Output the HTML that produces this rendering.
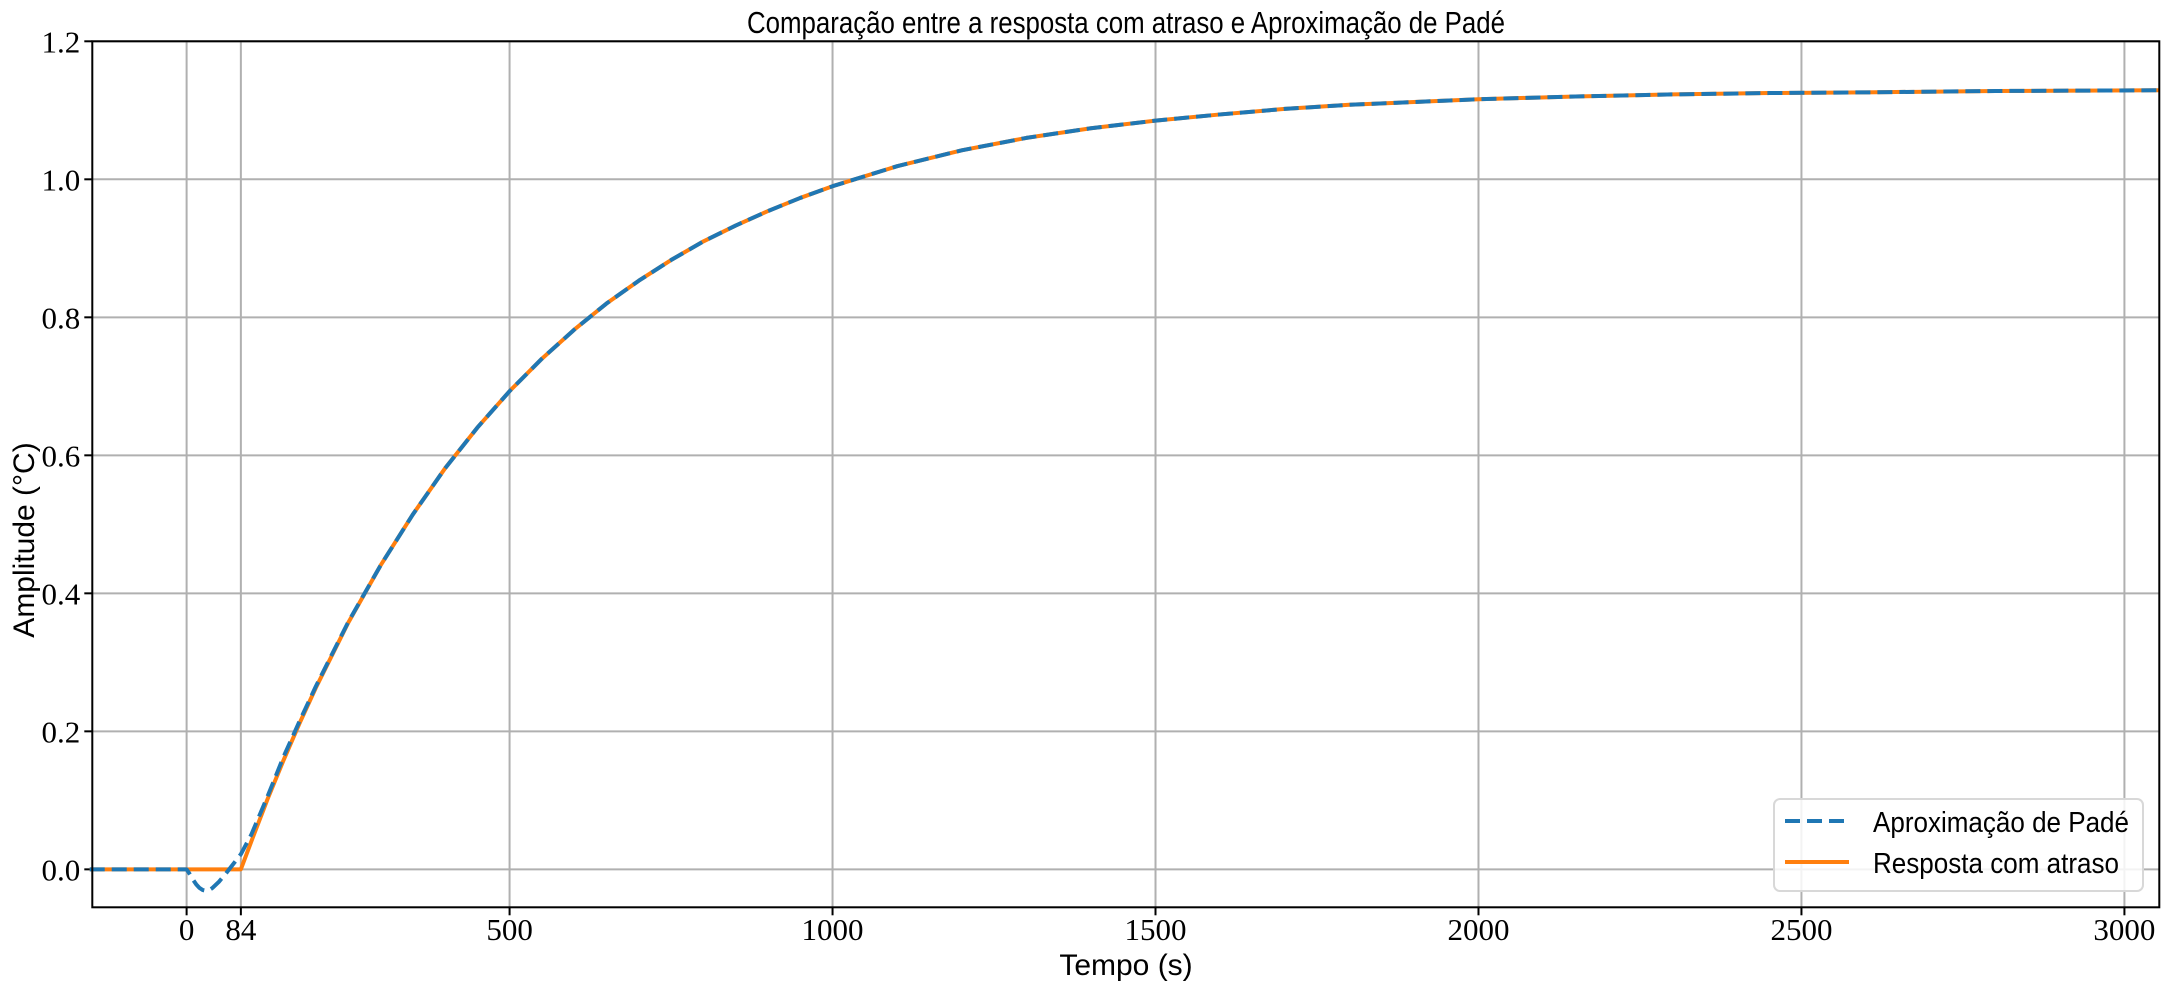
<!DOCTYPE html>
<html><head><meta charset="utf-8"><style>
body{margin:0;background:#fff;}
svg{display:block;}
.tick{font-family:"Liberation Serif",serif;font-size:31px;fill:#000;}
.lab{font-family:"Liberation Sans",sans-serif;font-size:30px;fill:#000;}
</style></head><body>
<svg id="chart" width="2168" height="990" xmlns="http://www.w3.org/2000/svg">
<rect width="2168" height="990" fill="#fff"/>
<g id="grid"></g>
<g id="ticks"></g>
<g id="series"></g>
<rect x="92.3" y="41.3" width="2067" height="866" fill="none" stroke="#000" stroke-width="2"/>
<text x="1126" y="33" text-anchor="middle" class="lab" style="font-size:31px" textLength="758" lengthAdjust="spacingAndGlyphs">Comparação entre a resposta com atraso e Aproximação de Padé</text>
<text x="1126" y="975" text-anchor="middle" class="lab">Tempo (s)</text>
<text transform="translate(34,540) rotate(-90)" text-anchor="middle" class="lab">Amplitude (°C)</text>
<g>
<rect x="1774" y="799" width="369" height="92" rx="6" fill="#fff" fill-opacity="0.85" stroke="#d8d8d8" stroke-width="2"/>
<line x1="1785" y1="821" x2="1847" y2="821" stroke="#1f77b4" stroke-width="4" stroke-dasharray="15 7"/>
<text x="1873" y="832" class="lab" style="font-size:29px" textLength="256" lengthAdjust="spacingAndGlyphs">Aproximação de Padé</text>
<line x1="1785" y1="862" x2="1849" y2="862" stroke="#ff7f0e" stroke-width="4"/>
<text x="1873" y="873" class="lab" style="font-size:29px" textLength="246" lengthAdjust="spacingAndGlyphs">Resposta com atraso</text>
</g>
</svg>
<script>
const xTicks=[0,84,500,1000,1500,2000,2500,3000];
const yTicks=[0.0,0.2,0.4,0.6,0.8,1.0,1.2];
const yTickLabels=["0.0","0.2","0.4","0.6","0.8","1.0","1.2"];
const delayT=[-150,0,84,100,125,150,175,200,250,300,350,400,450,500,550,600,650,700,750,800,850,900,950,1000,1100,1200,1300,1400,1500,1600,1700,1800,1900,2000,2150,2300,2450,2600,2800,3054];
const delayY=[0,0,0,0.040,0.101,0.158,0.212,0.263,0.357,0.440,0.514,0.581,0.640,0.693,0.740,0.782,0.820,0.853,0.883,0.910,0.933,0.954,0.973,0.990,1.019,1.042,1.060,1.074,1.085,1.094,1.102,1.108,1.112,1.116,1.120,1.123,1.125,1.126,1.128,1.129];
const padeT=[-150,0,5,10,15,20,25,30,35,40,50,60,70,84,100,125,150,175,200,250,300,350,400,450,500,550,600,650,700,750,800,850,900,950,1000,1100,1200,1300,1400,1500,1600,1700,1800,1900,2000,2150,2300,2450,2600,2800,3054];
const padeY=[0,0,-0.007,-0.015,-0.022,-0.027,-0.030,-0.031,-0.030,-0.027,-0.018,-0.007,0.005,0.022,0.050,0.105,0.163,0.215,0.265,0.358,0.440,0.514,0.581,0.640,0.693,0.740,0.782,0.820,0.853,0.883,0.910,0.933,0.954,0.973,0.990,1.019,1.042,1.060,1.074,1.085,1.094,1.102,1.108,1.112,1.116,1.120,1.123,1.125,1.126,1.128,1.129];
const X0=-146,X1=3054,PX0=92.3,PX1=2159.3;
const Y0=-0.055,Y1=1.2,PY0=907.3,PY1=41.3;
const sx=v=>PX0+(v-X0)/(X1-X0)*(PX1-PX0);
const sy=v=>PY0+(v-Y0)/(Y1-Y0)*(PY1-PY0);
const NS="http://www.w3.org/2000/svg";
function mk(tag,attrs,parent){const e=document.createElementNS(NS,tag);for(const k in attrs)e.setAttribute(k,attrs[k]);parent.appendChild(e);return e;}
const grid=document.getElementById('grid'),ticks=document.getElementById('ticks'),series=document.getElementById('series');
xTicks.forEach(t=>{
  const g=mk('line',{x1:sx(t),x2:sx(t),y1:PY1,y2:PY0,stroke:'#b0b0b0','stroke-width':2},grid);
  
  
  const tk=mk('line',{x1:sx(t),x2:sx(t),y1:PY0,y2:PY0+8,stroke:'#000','stroke-width':2},ticks);
  
  
  const tx=mk('text',{x:sx(t),y:940,'text-anchor':'middle',class:'tick'},ticks);
  tx.textContent=String(t);
  
  
});
yTicks.forEach((v,i)=>{
  const g=mk('line',{x1:PX0,x2:PX1,y1:sy(v),y2:sy(v),stroke:'#b0b0b0','stroke-width':2},grid);
  
  
  const tk=mk('line',{x1:PX0-8,x2:PX0,y1:sy(v),y2:sy(v),stroke:'#000','stroke-width':2},ticks);
  
  
  const tx=mk('text',{x:PX0-12,y:sy(v)+11,'text-anchor':'end',class:'tick'},ticks);
  tx.textContent=yTickLabels[i];
  
  
});
function linpath(ts,ys){return 'M'+ts.map((t,i)=>sx(t).toFixed(2)+','+sy(ys[i]).toFixed(2)).join(' L');}
const o=mk('path',{d:linpath(delayT,delayY),fill:'none',stroke:'#ff7f0e','stroke-width':4,'stroke-linejoin':'round'},series);


const b=mk('path',{d:linpath(padeT,padeY),fill:'none',stroke:'#1f77b4','stroke-width':4,'stroke-dasharray':'15 7','stroke-linejoin':'round'},series);


</script>
</body></html>
